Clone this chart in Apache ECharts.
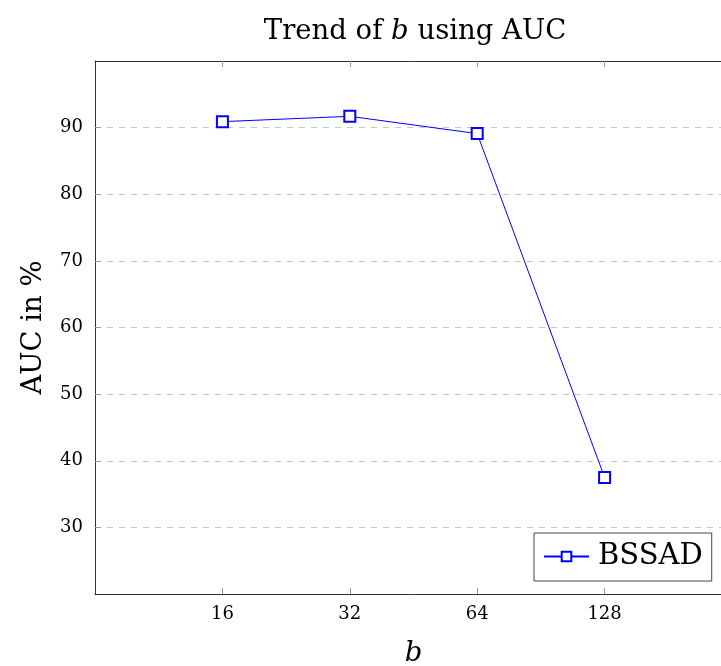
<!DOCTYPE html>
<html>
<head>
<meta charset="utf-8">
<script src="https://cdn.jsdelivr.net/npm/echarts@6/dist/echarts.min.js"></script>
<style>
  html, body { margin: 0; padding: 0; background: #fff; }
  #chart { width: 721px; height: 666px; }
</style>
</head>
<body>
<div id="chart"></div>
<script>
// Block size b and the resulting AUC (%)
const categories = ['16', '32', '64', '128'];
const aucValues = [90.9, 91.7, 89.1, 37.5];
const yTicks = [30, 40, 50, 60, 70, 80, 90];
const seriesName = 'BSSAD';

// Categories sit at positions 1..n on a value axis padded by one step each side
const xPositions = categories.map((_, i) => i + 1);
const lineData = aucValues.map((v, i) => [xPositions[i], v]);

const FONT = 'DejaVu Serif';
const axisColor = '#333';

const chart = echarts.init(document.getElementById('chart'), null, { renderer: 'canvas' });
chart.setOption({
  backgroundColor: '#fff',
  animation: false,
  title: {
    text: 'Trend of {i|b} using AUC',
    left: 410,
    textAlign: 'center',
    top: 13,
    textStyle: {
      fontFamily: FONT, fontSize: 27.5, fontWeight: 'normal', color: '#000',
      rich: { i: { fontFamily: FONT, fontSize: 27.5, fontStyle: 'italic', color: '#000' } }
    }
  },
  grid: { left: 95, top: 61, width: 637, height: 533, outerBoundsMode: 'none', containLabel: false },
  legend: {
    data: [seriesName],
    left: 534, top: 533,
    orient: 'vertical',
    backgroundColor: '#fff',
    borderColor: '#444', borderWidth: 1,
    padding: [9, 9, 10, 9],
    itemWidth: 45, itemHeight: 12, itemGap: 4,
    textStyle: { fontFamily: FONT, fontSize: 29, color: '#000', padding: [0, 0, 0, 4] }
  },
  xAxis: [{
    type: 'value', min: 0, max: categories.length + 1, interval: 1,
    name: 'b', nameLocation: 'middle', nameGap: 46,
    nameTextStyle: { fontFamily: FONT, fontSize: 27.5, fontStyle: 'italic', color: '#000' },
    axisLine: { show: true, onZero: false, lineStyle: { color: axisColor, width: 1 } },
    axisTick: { show: true, inside: true, length: 6, customValues: xPositions, lineStyle: { color: '#999' } },
    axisLabel: {
      customValues: xPositions, margin: 11,
      formatter: v => categories[v - 1] || '',
      fontFamily: FONT, fontSize: 18, color: '#000'
    },
    splitLine: { show: false }
  }, {
    type: 'value', position: 'top', min: 0, max: categories.length + 1, interval: 1,
    axisLine: { show: true, onZero: false, lineStyle: { color: axisColor, width: 1 } },
    axisTick: { show: true, inside: true, length: 6, customValues: xPositions, lineStyle: { color: '#999' } },
    axisLabel: { show: false },
    splitLine: { show: false }
  }],
  yAxis: [{
    type: 'value', min: 20, max: 100, interval: 10,
    name: 'AUC in %', nameLocation: 'middle', nameGap: 47, nameRotate: 90,
    nameTextStyle: { fontFamily: FONT, fontSize: 27.5, color: '#000' },
    axisLine: { show: true, onZero: false, lineStyle: { color: axisColor, width: 1 } },
    axisTick: { show: true, inside: true, length: 6, customValues: yTicks, lineStyle: { color: '#999' } },
    axisLabel: { customValues: yTicks, margin: 12, fontFamily: FONT, fontSize: 18, color: '#000' },
    splitLine: { show: true, lineStyle: { color: '#c8c8c8', type: [6, 6], width: 1 } }
  }, {
    type: 'value', position: 'right', min: 20, max: 100, interval: 10,
    axisLine: { show: true, onZero: false, lineStyle: { color: axisColor, width: 1 } },
    axisTick: { show: true, inside: true, length: 6, customValues: yTicks, lineStyle: { color: '#999' } },
    axisLabel: { show: false },
    splitLine: { show: false }
  }],
  series: [{
    name: seriesName,
    type: 'line',
    data: lineData,
    xAxisIndex: 0, yAxisIndex: 0,
    symbol: 'emptyRect', symbolSize: 11,
    itemStyle: { color: '#0000ff', borderColor: '#0000ff', borderWidth: 1.2 },
    lineStyle: { color: '#0000ff', width: 1 },
    z: 3
  }]
});
</script>
</body>
</html>
